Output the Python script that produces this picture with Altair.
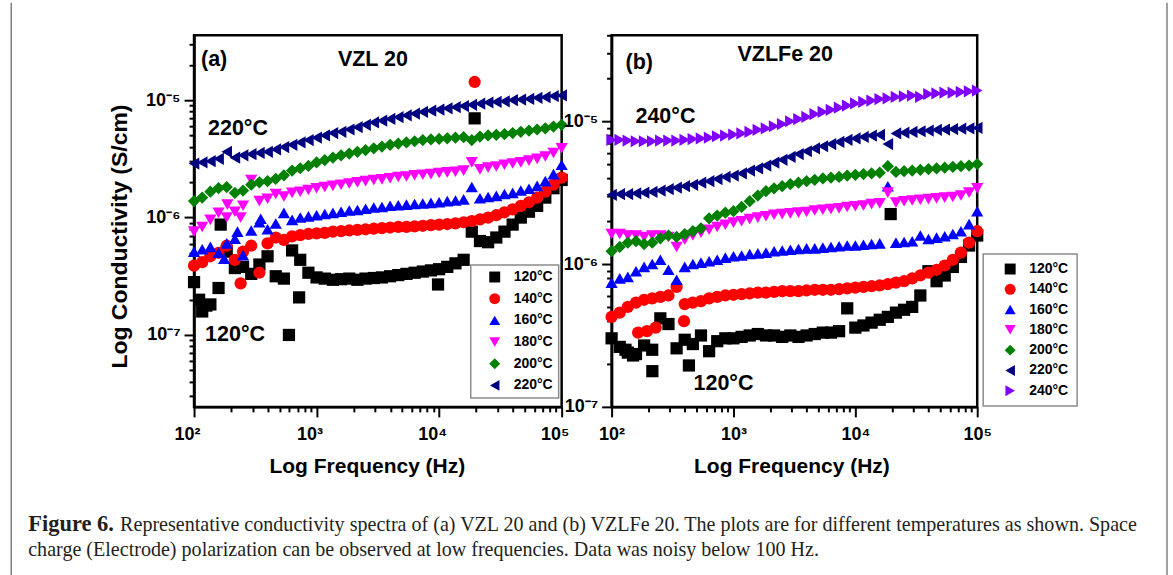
import altair as alt
import pandas as pd

# ---------------- data (log10 of conductivity in S/cm) ----------------
FREQ_HZ = [100, 116.6, 135.9, 158.5, 184.8, 215.4, 251.2, 292.9, 341.5, 398.1, 464.2, 541.2, 631.0, 735.6, 857.7,
           1000, 1166, 1359, 1585, 1848, 2154, 2512, 2929, 3415, 3981, 4642, 5412, 6310, 7356, 8577,
           10000, 11659, 13594, 15849, 18478, 21544, 25119, 29286, 34145, 39811, 46416, 54117, 63096, 73564, 85770,
           100000]

SERIES_A = ["120°C", "140°C", "160°C", "180°C", "200°C", "220°C"]
SERIES_B = ["120°C", "140°C", "160°C", "180°C", "200°C", "220°C", "240°C"]

A_120 = [-6.55, -6.80, -6.74, -6.60, -6.29, -6.43, -6.42, -6.48, -6.40, -6.33, -6.50, -6.52, -6.28, -6.36, -6.47,
         -6.51, -6.52, -6.53, -6.525, -6.52, -6.53, -6.52, -6.515, -6.51, -6.50, -6.49, -6.48, -6.47, -6.46, -6.45,
         -6.44, -6.42, -6.39, -6.36, -6.12, -6.20, -6.21, -6.17, -6.12, -6.06, -6.00, -5.95, -5.90, -5.83, -5.75,
         -5.68]
A_140 = [-6.41, -6.38, -6.33, -6.30, -6.24, -6.36, -6.29, -6.24, -6.47, -6.22, -6.17, -6.19, -6.16, -6.15, -6.14,
         -6.135, -6.13, -6.12, -6.115, -6.11, -6.105, -6.10, -6.095, -6.09, -6.085, -6.08, -6.08, -6.075, -6.07, -6.065,
         -6.06, -6.055, -6.05, -6.04, -6.03, -6.015, -6.00, -5.98, -5.955, -5.93, -5.90, -5.87, -5.83, -5.78, -5.72,
         -5.66]
A_160 = [-6.29, -6.27, -6.25, -6.30, -6.22, -6.18, -6.32, -6.11, -6.04, -6.10, -6.05, -5.96, -6.02, -6.00, -5.99,
         -5.98, -5.97, -5.96, -5.95, -5.94, -5.935, -5.925, -5.915, -5.91, -5.90, -5.895, -5.89, -5.885, -5.88, -5.875,
         -5.87, -5.86, -5.855, -5.845, -5.74, -5.835, -5.825, -5.815, -5.80, -5.79, -5.77, -5.755, -5.73, -5.69, -5.63,
         -5.55]
A_180 = [-6.12, -6.08, -6.02, -5.96, -6.00, -5.95, -5.90, -5.68, -5.86, -5.84, -5.80, -5.82, -5.79, -5.78, -5.765,
         -5.75, -5.74, -5.73, -5.72, -5.71, -5.70, -5.69, -5.68, -5.675, -5.665, -5.655, -5.65, -5.64, -5.635, -5.63,
         -5.62, -5.615, -5.61, -5.60, -5.53, -5.59, -5.575, -5.565, -5.55, -5.54, -5.53, -5.515, -5.50, -5.48, -5.45,
         -5.41]
A_200 = [-5.86, -5.83, -5.78, -5.75, -5.74, -5.79, -5.77, -5.72, -5.70, -5.69, -5.67, -5.64, -5.60, -5.58, -5.56,
         -5.53, -5.51, -5.49, -5.47, -5.455, -5.44, -5.425, -5.41, -5.395, -5.38, -5.37, -5.36, -5.35, -5.34, -5.335,
         -5.33, -5.325, -5.32, -5.315, -5.34, -5.31, -5.30, -5.295, -5.29, -5.28, -5.27, -5.26, -5.25, -5.24, -5.225,
         -5.21]
A_220 = [-5.54, -5.53, -5.52, -5.50, -5.44, -5.49, -5.47, -5.46, -5.45, -5.44, -5.42, -5.40, -5.38, -5.36, -5.34,
         -5.32, -5.30, -5.28, -5.27, -5.25, -5.23, -5.21, -5.19, -5.175, -5.16, -5.145, -5.13, -5.115, -5.10, -5.09,
         -5.08, -5.07, -5.06, -5.05, -5.04, -5.03, -5.02, -5.015, -5.01, -5.00, -4.995, -4.99, -4.98, -4.975, -4.965,
         -4.96]

A_EXTRA_SERIES = ["120°C"] * 7 + ["140°C"] * 2 + ["160°C"] * 3 + ["180°C"] * 2
A_EXTRA_FREQ = [110, 126, 165, 595, 720, 9800, 19500, 19500, 240, 176, 226, 350, 187, 240]
A_EXTRA_LOG = [-6.70, -6.75, -6.06, -7.00, -6.68, -6.57, -5.155, -4.845, -6.56, -6.35, -6.12, -6.01, -5.89, -6.00]

B_120 = [-6.52, -6.58, -6.62, -6.63, -6.57, -6.60, -6.38, -6.42, -6.59, -6.53, -6.56, -6.50, -6.61, -6.54, -6.52,
         -6.52, -6.51, -6.50, -6.49, -6.50, -6.50, -6.51, -6.50, -6.51, -6.50, -6.49, -6.48, -6.48, -6.47, -6.31,
         -6.445, -6.43, -6.41, -6.39, -6.37, -6.34, -6.32, -6.30, -6.22, -6.05, -6.12, -6.08, -6.02, -5.95, -5.87,
         -5.80]
B_140 = [-6.37, -6.34, -6.30, -6.27, -6.25, -6.24, -6.23, -6.22, -6.16, -6.28, -6.27, -6.26, -6.24, -6.23, -6.22,
         -6.215, -6.21, -6.205, -6.20, -6.20, -6.195, -6.19, -6.19, -6.19, -6.185, -6.18, -6.18, -6.18, -6.175, -6.17,
         -6.165, -6.16, -6.155, -6.15, -6.14, -6.13, -6.12, -6.10, -6.08, -6.06, -6.04, -6.01, -5.97, -5.92, -5.85,
         -5.77]
B_160 = [-6.13, -6.10, -6.09, -6.05, -6.02, -6.00, -5.97, -6.04, -6.11, -6.02, -6.00, -5.99, -5.98, -5.97, -5.955,
         -5.945, -5.94, -5.93, -5.925, -5.92, -5.91, -5.905, -5.90, -5.895, -5.89, -5.89, -5.885, -5.88, -5.875, -5.87,
         -5.87, -5.865, -5.86, -5.855, -5.455, -5.85, -5.845, -5.84, -5.80, -5.825, -5.815, -5.805, -5.79, -5.77, -5.72,
         -5.63]
B_180 = [-5.79, -5.79, -5.80, -5.80, -5.81, -5.80, -5.80, -5.81, -5.88, -5.83, -5.80, -5.78, -5.76, -5.74, -5.725,
         -5.71, -5.70, -5.685, -5.675, -5.665, -5.655, -5.65, -5.645, -5.64, -5.635, -5.625, -5.62, -5.615, -5.61, -5.60,
         -5.595, -5.59, -5.58, -5.575, -5.50, -5.57, -5.56, -5.555, -5.55, -5.545, -5.54, -5.535, -5.53, -5.52, -5.50,
         -5.47]
B_200 = [-5.91, -5.88, -5.85, -5.84, -5.86, -5.85, -5.82, -5.80, -5.81, -5.79, -5.77, -5.75, -5.68, -5.66, -5.64,
         -5.63, -5.60, -5.56, -5.52, -5.49, -5.47, -5.455, -5.44, -5.43, -5.42, -5.41, -5.40, -5.395, -5.39, -5.38,
         -5.375, -5.37, -5.365, -5.36, -5.315, -5.355, -5.35, -5.345, -5.34, -5.335, -5.33, -5.325, -5.32, -5.315, -5.31,
         -5.30]
B_220 = [-5.515, -5.51, -5.51, -5.505, -5.50, -5.495, -5.485, -5.475, -5.465, -5.455, -5.445, -5.43, -5.42, -5.405, -5.39,
         -5.38, -5.365, -5.345, -5.33, -5.31, -5.29, -5.27, -5.25, -5.23, -5.21, -5.19, -5.175, -5.16, -5.145, -5.13,
         -5.12, -5.11, -5.10, -5.095, -5.16, -5.085, -5.08, -5.075, -5.07, -5.065, -5.06, -5.058, -5.055, -5.052, -5.05,
         -5.047]
B_240 = [-5.13, -5.13, -5.135, -5.14, -5.14, -5.14, -5.135, -5.135, -5.135, -5.13, -5.125, -5.12, -5.115, -5.105, -5.10,
         -5.093, -5.085, -5.075, -5.06, -5.05, -5.035, -5.02, -5.00, -4.985, -4.97, -4.95, -4.935, -4.92, -4.905, -4.89,
         -4.875, -4.865, -4.855, -4.845, -4.84, -4.83, -4.825, -4.82, -4.83, -4.81, -4.805, -4.80, -4.80, -4.795, -4.79,
         -4.785]

B_EXTRA_SERIES = ["120°C"] * 5 + ["140°C"] * 4
B_EXTRA_FREQ = [130, 150, 216, 431, 19500, 165, 195, 230, 393]
B_EXTRA_LOG = [-6.60, -6.64, -6.75, -6.71, -5.65, -6.48, -6.47, -6.445, -6.40]

# annotations inside the panels (text, frequency, conductivity)
A_NOTE_TEXT = ["(a)", "VZL 20", "220°C", "120°C"]
A_NOTE_FREQ = [114, 1493, 130, 123]
A_NOTE_COND = [2.19e-5, 2.19e-5, 5.7e-6, 1.0e-7]
B_NOTE_TEXT = ["(b)", "VZLFe 20", "240°C", "120°C"]
B_NOTE_FREQ = [130, 1080, 157, 470]
B_NOTE_COND = [2.55e-5, 2.9e-5, 1.07e-5, 1.44e-7]

CAPTION_BOLD = "Figure 6."
CAPTION_LINE1 = ("Representative conductivity spectra of (a) VZL 20 and (b) VZLFe 20. "
                 "The plots are for different temperatures as shown. Space")
CAPTION_LINE2 = ("charge (Electrode) polarization can be observed at low frequencies. "
                 "Data was noisy below 100 Hz.")

COLORS = ["#000000", "#FF0000", "#0000FF", "#FF00FF", "#008000", "#000080", "#8000FF"]
SHAPES = ["square", "circle", "triangle-up", "triangle-down", "diamond", "triangle-left", "triangle-right"]

FONT = "Liberation Sans"
SERIF = "Liberation Serif"


def long_df(names, values, ex_s, ex_f, ex_l):
    rows = []
    for i, (name, vals) in enumerate(zip(names, values)):
        for f, v in zip(FREQ_HZ, vals):
            rows.append({"series": name, "idx": i, "freq": f, "cond": 10 ** v})
        for s, f, v in zip(ex_s, ex_f, ex_l):
            if s == name:
                rows.append({"series": name, "idx": i, "freq": f, "cond": 10 ** v})
    return pd.DataFrame(rows)


df_a = long_df(SERIES_A, [A_120, A_140, A_160, A_180, A_200, A_220], A_EXTRA_SERIES, A_EXTRA_FREQ, A_EXTRA_LOG)
df_b = long_df(SERIES_B, [B_120, B_140, B_160, B_180, B_200, B_220, B_240], B_EXTRA_SERIES, B_EXTRA_FREQ, B_EXTRA_LOG)

MAJOR = "abs(log(datum.value)/LN10 - round(log(datum.value)/LN10)) < 0.001"
EXP = "round(log(datum.value)/LN10)"
SUP = {2: "²", 3: "³", 4: "⁴", 5: "⁵", -5: "⁻⁵", -6: "⁻⁶", -7: "⁻⁷"}
nested = "".join(f"{EXP}=={k}?'{v}':" for k, v in SUP.items()) + "''"
LABEL_EXPR = f"{MAJOR} ? '10' + ({nested}) : ''"

X_TICKS = [m * 10 ** e for e in (2, 3, 4) for m in range(1, 10)] + [100000]


def y_ticks(lo, hi):
    return [m * 10 ** e for e in (-8, -7, -6, -5) for m in range(1, 10) if lo <= m * 10 ** e <= hi]


def axis(values, title, title_padding=0, label_padding=4, label_offset=0, title_size=21, **extra):
    kw = dict(values=values, labelExpr=LABEL_EXPR,
              tickSize={"condition": {"test": MAJOR, "value": 10}, "value": 5},
              tickWidth=2, tickColor="black", domainColor="black", domainWidth=2.5,
              labelFont=FONT, labelFontSize=18, labelFontWeight="bold", labelColor="black",
              labelPadding=label_padding, labelOverlap=False, labelFlush=False, labelOffset=label_offset,
              grid=False, titleFont=FONT, titleFontSize=title_size, titleFontWeight="bold", titleColor="black",
              titlePadding=title_padding)
    kw.update(extra)
    kw["title"] = title
    return alt.Axis(**kw)


def legend(x, y, pad, rowpad):
    return alt.Legend(title=None, orient="none", legendX=x, legendY=y, padding=pad, rowPadding=rowpad,
                      symbolOffset=12, labelOffset=12, strokeColor="#8c8c8c",
                      fillColor="white", labelFont=FONT, labelFontSize=14, labelFontWeight="bold",
                      labelColor="black", symbolSize=120, symbolStrokeWidth=0, cornerRadius=0)


def panel(df, names, ydomain, xaxis, yaxis, leg, notes):
    n = len(names)
    xs = alt.X("freq:Q", scale=alt.Scale(type="log", domain=[100, 100000], nice=False), axis=xaxis)
    ys = alt.Y("cond:Q", scale=alt.Scale(type="log", domain=ydomain, nice=False), axis=yaxis)
    pts = alt.Chart(df).mark_point(filled=True, size=150, opacity=1, strokeWidth=0).encode(
        x=xs, y=ys,
        color=alt.Color("series:N", scale=alt.Scale(domain=names, range=COLORS[:n]), legend=leg),
        shape=alt.Shape("series:N", scale=alt.Scale(domain=names, range=SHAPES[:n]), legend=leg),
    )
    ndf = pd.DataFrame({"label": notes[0], "freq": notes[1], "cond": notes[2]})
    txt = alt.Chart(ndf).mark_text(font=FONT, fontSize=21.5, fontWeight="bold", align="left",
                                   baseline="middle", color="black").encode(
        x=alt.X("freq:Q"), y=alt.Y("cond:Q"), text="label:N")
    return pts, txt


pts_a, txt_a = panel(df_a, SERIES_A, [2.44e-8, 3.57e-5],
                     axis(X_TICKS, "Log Frequency (Hz)", title_padding=12, label_padding=9, label_offset=-7,
                          titleX=173),
                     axis(y_ticks(2.44e-8, 3.57e-5), "Log Conductivity (S/cm)", title_padding=14,
                          title_size=23, titleY=201),
                     legend(277, 230, 5, 7.7), (A_NOTE_TEXT, A_NOTE_FREQ, A_NOTE_COND))
pts_b, txt_b = panel(df_b, SERIES_B, [1e-7, 4e-5],
                     axis(X_TICKS, "Log Frequency (Hz)", title_padding=12, label_padding=9, titleX=180),
                     axis(y_ticks(1e-7, 4e-5), None),
                     legend(372, 219, 8, 6.3), (B_NOTE_TEXT, B_NOTE_FREQ, B_NOTE_COND))

one = pd.DataFrame({"t": [""]})
cap_bold = alt.Chart(pd.DataFrame({"t": [CAPTION_BOLD]})).mark_text(
    font=SERIF, fontSize=22.5, fontWeight="bold", align="left", baseline="alphabetic", color="#231f20"
).encode(text="t:N", x=alt.value(-166), y=alt.value(496))
cap_1 = alt.Chart(pd.DataFrame({"t": [CAPTION_LINE1]})).mark_text(
    font=SERIF, fontSize=20.1, align="left", baseline="alphabetic", color="#231f20"
).encode(text="t:N", x=alt.value(-74), y=alt.value(496))
cap_2 = alt.Chart(pd.DataFrame({"t": [CAPTION_LINE2]})).mark_text(
    font=SERIF, fontSize=20.1, align="left", baseline="alphabetic", color="#231f20"
).encode(text="t:N", x=alt.value(-166), y=alt.value(521))
frame_l = alt.Chart(one).mark_rule(color="#808080", strokeWidth=1.5).encode(
    x=alt.value(-183), y=alt.value(-32.5), y2=alt.value(545))
frame_r = alt.Chart(one).mark_rule(color="#808080", strokeWidth=1.5).encode(
    x=alt.value(974), y=alt.value(-32.5), y2=alt.value(545))

chart_a = alt.layer(pts_a, txt_a, cap_bold, cap_1, cap_2, frame_l, frame_r).properties(width=368, height=372)
chart_b = alt.layer(pts_b, txt_b).properties(width=366, height=372)

chart = alt.hconcat(chart_a, chart_b, spacing=50, bounds="flush").resolve_scale(
    color="independent", shape="independent"
).properties(
    padding={"left": 9.25, "top": 0, "right": 4, "bottom": 0}, background="white"
).configure_view(stroke="black", strokeWidth=2.5).configure_legend(strokeWidth=1.5)

chart.save("out.html", embed_options={"renderer": "svg", "actions": False})
